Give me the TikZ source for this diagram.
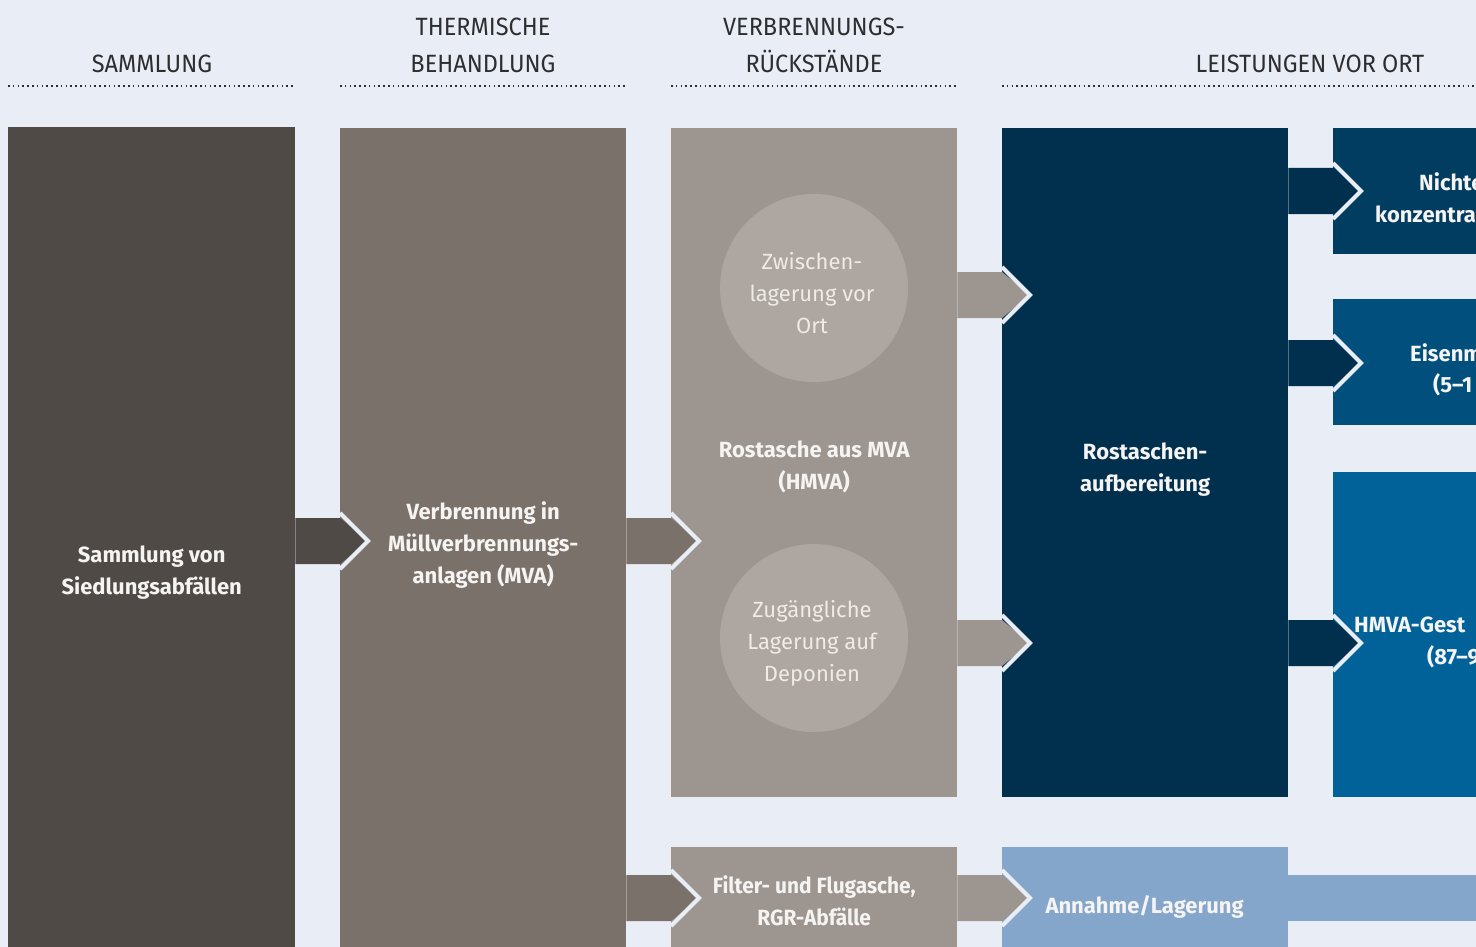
\documentclass[tikz,border=0pt]{standalone}
\usepackage{fontspec}
\setmainfont{Fira Sans}
\newfontfamily\headfont[FakeStretch=0.94]{Fira Sans}
\newfontfamily\condfont[FakeStretch=0.95]{Fira Sans}
\usetikzlibrary{calc,positioning}

\definecolor{bgc}{HTML}{E9EDF5}
\definecolor{hdrc}{HTML}{2E2E30}
\definecolor{txtw}{HTML}{F6F4F2}
\definecolor{circt}{HTML}{EFEBE7}
\definecolor{cola}{HTML}{4F4A46}
\definecolor{colb}{HTML}{7A716B}
\definecolor{colc}{HTML}{9D958F}
\definecolor{circc}{HTML}{AEA6A1}
\definecolor{cold}{HTML}{012F4E}
\definecolor{colne}{HTML}{003D60}
\definecolor{colfe}{HTML}{014F7D}
\definecolor{colgs}{HTML}{01629A}
\definecolor{collb}{HTML}{84A6CA}

\tikzset{
    box/.style={anchor=north west, inner sep=0pt, minimum width=286pt},
    lbl/.style={text=txtw, font=\fontsize{22}{32}\selectfont\bfseries, align=center},
    hdr/.style={text=hdrc, font=\headfont\fontsize{25}{37}\selectfont, align=center},
    rule/.style={draw=hdrc, line width=1.6pt, dash pattern=on 1.6pt off 3.2pt},
    gap/.style={draw=bgc, line width=4pt},
    circ/.style={circle, fill=circc, minimum size=188pt, inner sep=0pt, text=circt,
        font=\fontsize{22}{32}\selectfont, align=center}
}

\newcommand{\flow}[4]{%
    \fill[#4] ($(#1.east |- 0,#3)+(0,-23)$) -- ($(#2.west |- 0,#3)+(0,-23)$)
        -- ($(#2.west |- 0,#3)+(28,0)$) -- ($(#2.west |- 0,#3)+(0,23)$)
        -- ($(#1.east |- 0,#3)+(0,23)$) -- cycle;
    \draw[gap] ($(#2.west |- 0,#3)+(0,-28)$) -- ($(#2.west |- 0,#3)+(28,0)$)
        -- ($(#2.west |- 0,#3)+(0,28)$);
}

\begin{document}
\begin{tikzpicture}[x=1pt, y=-1pt]
    \useasboundingbox (0,0) rectangle (1476,947);
    \fill[bgc] (0,0) rectangle (1476,947);
    \clip (0,0) rectangle (1476,947);

    \node[box, fill=cola, minimum width=287pt, minimum height=840pt] (sam) at (8,127) {};
    \node[box, fill=colb, minimum height=840pt] (mva) at (340,128) {};
    \node[box, fill=colc, minimum height=669pt] (hmva) at (671,128) {};
    \node[box, fill=colc, minimum height=120pt] (flug) at (671,847) {};
    \node[box, fill=cold, minimum height=669pt] (aufb) at (1002,128) {};
    \node[box, fill=collb, minimum height=120pt] (ann) at (1002,847) {};
    \node[box, fill=colne, minimum height=126pt] (ne) at (1333,128) {};
    \node[box, fill=colfe, minimum height=126pt] (fe) at (1333,299) {};
    \node[box, fill=colgs, minimum height=325pt] (gest) at (1333,472) {};

    \node[hdr] (hdsam) at (152,64) {SAMMLUNG};
    \node[hdr] (hdbeh) at (483,45) {THERMISCHE\\BEHANDLUNG};
    \node[hdr] (hdrst) at (814,45) {VERBRENNUNGS-\\RÜCKSTÄNDE};
    \node[hdr] (hdort) at (1310,64) {LEISTUNGEN VOR ORT};

    \draw[rule] (sam.west |- 0,86) -- (sam.east |- 0,86);
    \draw[rule] (mva.west |- 0,86) -- (mva.east |- 0,86);
    \draw[rule] (hmva.west |- 0,86) -- (hmva.east |- 0,86);
    \draw[rule] (aufb.west |- 0,86) -- (1476,86);

    \node[circ] (zw) at (814,288) {};
    \node[circ] (dep) at (814,638) {};

    \flow{sam}{mva}{541}{cola}
    \flow{mva}{hmva}{541}{colb}
    \flow{mva}{flug}{898}{colb}
    \flow{hmva}{aufb}{295}{colc}
    \flow{hmva}{aufb}{643}{colc}
    \flow{flug}{ann}{898}{colc}
    \flow{aufb}{ne}{191}{cold}
    \flow{aufb}{fe}{363}{cold}
    \flow{aufb}{gest}{643}{cold}

    \coordinate (rand) at (1480,898);
    \fill[collb] ($(ann.east |- rand)+(0,-23)$) rectangle ($(rand)+(0,23)$);

    \node[circ, fill=none] (tzw) at ($(zw)+(-2,5)$) {Zwischen-\\lagerung vor\\Ort};
    \node[circ, fill=none] (tdep) at ($(dep)+(-2,5)$) {Zugängliche\\Lagerung auf\\Deponien};

    \node[lbl] (tsam) at (sam.center |- 0,573) {Sammlung von\\Siedlungsabfällen};
    \node[lbl] (tmva) at (mva.center |- 0,545) {Verbrennung in\\Müllverbrennungs-\\anlagen (MVA)};
    \node[lbl] (thmva) at (hmva.center |- 0,467) {Rostasche aus MVA\\(HMVA)};
    \node[lbl] (taufb) at (aufb.center |- 0,470) {Rostaschen-\\aufbereitung};
    \node[lbl, font=\condfont\fontsize{22}{32}\selectfont\bfseries] (tflug) at (flug.center |- 0,901) {Filter- und Flugasche,\\RGR-Abfälle};
    \node[lbl, anchor=west] (tann) at ($(ann.west |- 0,907)+(40,0)$) {Annahme/Lagerung};

    \node[lbl, anchor=west, inner sep=0pt] (tne1) at (1419,182) {Nichte};
    \node[lbl, anchor=west, inner sep=0pt] (tne2) at (1375,214) {konzentra};
    \node[lbl, anchor=west, inner sep=0pt] (tfe1) at (1410,353) {Eisenm};
    \node[lbl, anchor=west, inner sep=0pt] (tfe2) at (1433,385) {(5–1};
    \node[lbl, anchor=west, inner sep=0pt] (tgs1) at (1354,625) {HMVA-Gest};
    \node[lbl, anchor=west, inner sep=0pt] (tgs2) at (1427,657) {(87–9};
\end{tikzpicture}
\end{document}
